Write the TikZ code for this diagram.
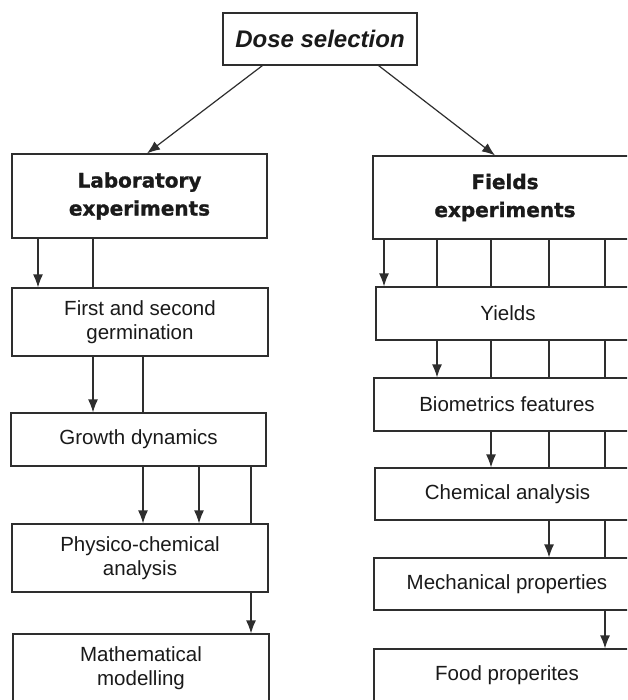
\documentclass[tikz,border=0pt]{standalone}
\usepackage{fontspec}
\setmainfont{Liberation Sans}
\newfontfamily\headfont{DejaVu Sans}[BoldFeatures={FakeBold=1.2}]
\usetikzlibrary{arrows.meta}
\definecolor{linegray}{HTML}{2E2E2E}
\definecolor{textgray}{HTML}{1A1A1A}
\begin{document}
\begin{tikzpicture}[x=1pt,y=-1pt,
  box/.style={draw=linegray, line width=1.2pt, fill=white, inner sep=0pt, align=center, text=textgray},
  body/.style={font=\fontsize{20.5}{23.5}\selectfont},
  head/.style={font=\headfont\bfseries\fontsize{20}{28}\selectfont},
  conn/.style={draw=linegray, line width=1.2pt},
  arr/.style={conn, -{Latex[length=13pt,width=10pt]}}]
\path[use as bounding box, clip] (0,0) rectangle (627,700);
\fill[white] (0,0) rectangle (627,700);

% nodes
\node[box, minimum width=194, minimum height=52, font=\bfseries\itshape\fontsize{24}{28}\selectfont] (dose) at (320,39) {Dose selection};
\node[box, head, minimum width=255, minimum height=84] (lab) at (139.5,196) {Laboratory\\experiments};
\node[box, head, minimum width=264, minimum height=83] (fields) at (505,197.5) {Fields\\experiments};

\node[box, body, minimum width=256, minimum height=68] (first) at (140,322) {First and second\\germination};
\node[box, body, minimum width=255, minimum height=53] (growth) at (138.5,439.5) {Growth dynamics};
\node[box, body, minimum width=256, minimum height=68] (physico) at (140,558) {Physico-chemical\\analysis};
\node[box, body, minimum width=256, minimum height=68] (math) at (141,668) {Mathematical\\modelling};

\node[box, body, minimum width=264, minimum height=53] (yields) at (508,313.5) {Yields};
\node[box, body, minimum width=266, minimum height=53] (bio) at (507,404.5) {Biometrics features};
\node[box, body, minimum width=265, minimum height=52] (chem) at (507.5,494) {Chemical analysis};
\node[box, body, minimum width=266, minimum height=52] (mech) at (507,584) {Mechanical properties};
\node[box, body, minimum width=266, minimum height=53] (food) at (507,675.5) {Food properites};

% column coordinates
\coordinate (cA) at (38,0);
\coordinate (cB) at (93,0);
\coordinate (cC) at (143,0);
\coordinate (cD) at (199,0);
\coordinate (cE) at (251,0);
\coordinate (rA) at (384,0);
\coordinate (rB) at (437,0);
\coordinate (rC) at (491,0);
\coordinate (rD) at (549,0);
\coordinate (rE) at (605,0);

% diagonal arrows
\draw[arr] ([xshift=40]dose.south west) -- ([xshift=7.5]lab.north);
\draw[arr] ([xshift=-39]dose.south east) -- ([xshift=-10]fields.north);

% left column
\draw[arr]  (lab.south -| cA) -- (first.north -| cA);
\draw[conn] (lab.south -| cB) -- (first.north -| cB);
\draw[arr]  (first.south -| cB) -- (growth.north -| cB);
\draw[conn] (first.south -| cC) -- (growth.north -| cC);
\draw[arr]  (growth.south -| cC) -- (physico.north -| cC);
\draw[arr]  (growth.south -| cD) -- (physico.north -| cD);
\draw[conn] (growth.south -| cE) -- (physico.north -| cE);
\draw[arr]  (physico.south -| cE) -- (math.north -| cE);

% right column
\draw[arr]  (fields.south -| rA) -- (yields.north -| rA);
\foreach \c in {rB,rC,rD,rE} \draw[conn] (fields.south -| \c) -- (yields.north -| \c);
\draw[arr]  (yields.south -| rB) -- (bio.north -| rB);
\foreach \c in {rC,rD,rE} \draw[conn] (yields.south -| \c) -- (bio.north -| \c);
\draw[arr]  (bio.south -| rC) -- (chem.north -| rC);
\foreach \c in {rD,rE} \draw[conn] (bio.south -| \c) -- (chem.north -| \c);
\draw[arr]  (chem.south -| rD) -- (mech.north -| rD);
\draw[conn] (chem.south -| rE) -- (mech.north -| rE);
\draw[arr]  (mech.south -| rE) -- (food.north -| rE);
\end{tikzpicture}
\end{document}
